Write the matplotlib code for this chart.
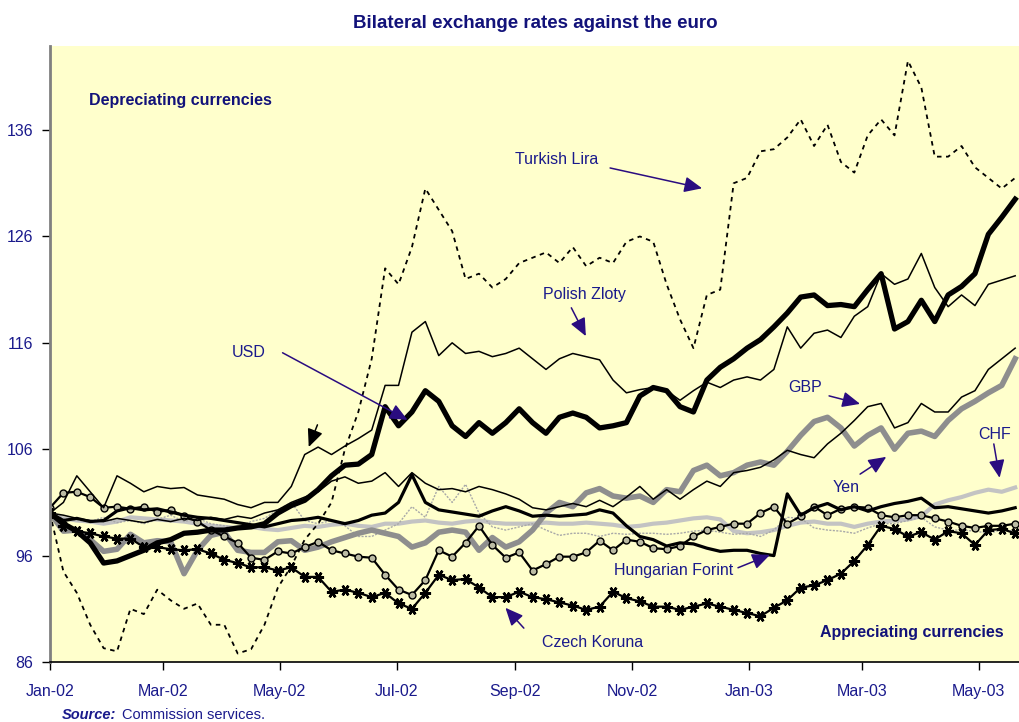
import numpy as np
import pandas as pd
import matplotlib
matplotlib.use('Agg')
import matplotlib.pyplot as plt
import matplotlib.dates as mdates
from matplotlib import font_manager as fm

# weekly observations, index 1 Jan 2002 = 100
dates = pd.date_range('2002-01-01', periods=73, freq='7D')

turkish_lira = [100, 94.5, 92.5, 89.5, 87.3, 87, 91, 90.5, 92.8, 91.8, 91, 91.5, 89.5, 89.5,
                86.8, 87.2, 89.5, 93, 95, 97.5, 99, 101, 106, 109.5, 114.5, 123, 121.5, 125,
                130.5, 128.5, 126.5, 122, 122.5, 121.2, 122, 123.5, 124, 124.5, 123.5, 125,
                123.2, 124, 123.5, 125.5, 126, 125.5, 121.5, 118.2, 115.5, 120.5, 121, 131,
                131.5, 134, 134.2, 135.3, 137, 134.5, 136.5, 133, 132, 135.5, 137, 135.5,
                142.5, 140, 133.5, 133.5, 134.5, 132.5, 131.5, 130.5, 131.5]
usd = [100, 99, 98.3, 97.2, 95.3, 95.5, 96, 96.5, 97.2, 97.5, 98.1, 98.2, 98.4, 98.4, 98.6,
       98.7, 99, 100, 100.7, 101.2, 102.2, 103.5, 104.5, 104.6, 105.5, 110, 108.2, 109.5,
       111.5, 110.5, 108.2, 107.2, 108.5, 107.5, 108.5, 109.8, 108.5, 107.5, 109, 109.4, 109,
       108, 108.2, 108.5, 111, 111.8, 111.5, 110, 109.5, 112.5, 113.7, 114.5, 115.5, 116.3,
       117.5, 118.8, 120.3, 120.5, 119.5, 119.6, 119.4, 121, 122.5, 117.3, 118, 120, 118,
       120.5, 121.3, 122.5, 126.2, 127.8, 129.5]
polish_zloty = [100, 101, 103.5, 102, 100.5, 103.5, 102.8, 102, 102.5, 102.3, 102.4, 101.7,
                101.5, 101.3, 100.8, 100.5, 101, 101, 102.5, 105.5, 106.2, 105.5, 106.3, 107,
                107.8, 112, 112, 117, 118, 114.8, 116, 115, 115.2, 114.7, 115, 115.5, 114.5,
                113.5, 114.5, 115, 114.7, 114.4, 112.5, 111.3, 111.6, 111.8, 111.5, 110.6,
                111.5, 112.3, 111.8, 112.5, 112.8, 112.5, 113.5, 117.5, 115.5, 116.9, 117.2,
                116.5, 118.5, 119.4, 122.5, 121.5, 122, 124.4, 121.2, 119.4, 120.5, 119.5,
                121.5, 121.9, 122.3]
gbp = [100, 99.8, 99.5, 99.3, 99.2, 99.5, 99.3, 99.1, 99.4, 99.2, 99.5, 99.3, 99.6, 99.4,
       99.7, 99.5, 100, 100.3, 101, 101.5, 102, 103, 103.4, 102.8, 103, 103.8, 102.5, 103.8,
       102.8, 102.2, 102.3, 102, 102.5, 102.2, 101.8, 101.3, 100.5, 100.3, 100.6, 100.9,
       100.6, 101.2, 100.6, 101.5, 102.5, 101.3, 102.2, 101.3, 102.2, 103, 102.5, 103.8, 104,
       104.3, 105, 105.9, 105.5, 105.2, 106.5, 107.5, 108.7, 110, 110.3, 108, 108.5, 110.3,
       109.5, 109.5, 110.9, 111.5, 113.5, 114.5, 115.5]
yen = [100, 98.3, 98.4, 97.5, 96.4, 96.6, 98, 97.2, 97.4, 97.3, 94.3, 96.5, 97.9, 98.2, 96.5,
       96.3, 96.3, 97.3, 97.4, 96.5, 96.8, 97.3, 97.7, 98.1, 98.4, 98.1, 97.8, 96.8, 97.2,
       98.2, 98.4, 98.2, 96.5, 97.7, 96.8, 97.3, 98.4, 100, 101, 100.6, 101.9, 102.3, 101.6,
       101.4, 101.6, 101, 102.2, 102, 104, 104.5, 103.5, 103.8, 104.5, 104.8, 104.5, 105.8,
       107.3, 108.6, 109, 108, 106.3, 107.3, 108, 106, 107.5, 107.7, 107.2, 108.7, 109.8,
       110.5, 111.3, 112, 114.5]
chf = [100, 99.5, 99.3, 99.2, 99, 99.2, 99.6, 99.5, 99.4, 99.3, 99.2, 99, 98.8, 98.7, 98.6,
       98.7, 98.5, 98.4, 98.6, 98.8, 98.7, 98.9, 99, 98.8, 98.7, 99, 99, 99.2, 99.3, 99.1, 99,
       99.2, 99.3, 99.1, 99, 99, 99, 99.1, 99, 99, 99.1, 99, 98.9, 98.7, 98.8, 99, 99.1, 99.3,
       99.5, 99.6, 99.4, 98.3, 98.1, 98.2, 98.4, 98.8, 99.1, 99.2, 99, 99, 98.7, 99, 99.2,
       99.3, 99.4, 99.7, 100.8, 101.2, 101.5, 101.9, 102.2, 102, 102.4]
other_dotted = [100, 99.5, 99.3, 99.2, 99.6, 99.1, 99.3, 99, 99.4, 99.8, 99.2, 99.5, 99, 98.8,
                98.6, 99.2, 99.5, 100.3, 101, 99.3, 99, 99.3, 98.8, 97.8, 97.8, 98.4, 99,
                100.6, 99.6, 102.5, 101, 102.7, 100, 98.7, 98.4, 98.7, 99, 98.4, 97.9, 98.1,
                98.1, 97.8, 98.1, 98, 98.1, 98.1, 98, 98.1, 98.3, 98.4, 98.2, 98, 98.1, 97.8,
                98.4, 99.6, 99.5, 98.6, 98.4, 98.3, 98.1, 98.6, 99, 99, 99.3, 99.6, 98.7, 98.4,
                98.4, 98.3, 98.1, 98.4, 98.3]
hungarian_forint = [100, 99.3, 99.5, 99.2, 99.3, 100.2, 100.5, 100.3, 100.4, 100.1, 99.8,
                    99.6, 99.5, 99.3, 99.1, 98.9, 98.7, 99, 99.3, 99.4, 99.6, 99.3, 99, 99.3,
                    99.8, 100, 101, 103.6, 101, 100.3, 100.1, 99.9, 99.7, 100.2, 100.6, 100.2,
                    99.7, 99.8, 99.7, 99.8, 99.9, 100.3, 100, 98.8, 97.8, 97.5, 96.9, 97.2,
                    97.1, 96.7, 96.4, 96.5, 96.5, 96.2, 96, 101.8, 99.8, 100.5, 100.9, 100.3,
                    100.6, 100.2, 100.6, 100.9, 101.1, 101.4, 100.5, 100.6, 100.4, 100.2, 100,
                    100.2, 100.5]
circles_series = [100.5, 101.9, 102, 101.5, 100.5, 100.6, 100.4, 100.6, 100.1, 100.3, 99.7,
                  99.2, 98.4, 97.8, 97.2, 95.8, 95.6, 96.4, 96.2, 96.8, 97.3, 96.5, 96.2, 95.9,
                  95.8, 94.2, 92.8, 92.3, 93.7, 96.5, 95.9, 97.2, 98.8, 97, 95.8, 96.3, 94.6,
                  95.2, 95.9, 95.9, 96.3, 97.4, 96.5, 97.5, 97.3, 96.7, 96.6, 96.9, 97.8, 98.4,
                  98.7, 99, 99, 100, 100.6, 99, 99.7, 100.6, 99.8, 100.4, 100.6, 100.5, 99.8,
                  99.6, 99.8, 99.8, 99.5, 99.2, 98.8, 98.6, 98.8, 98.8, 99]
czech_koruna = [100, 98.8, 98.3, 98.1, 97.8, 97.6, 97.6, 96.8, 96.8, 96.6, 96.5, 96.6, 96.2,
                95.6, 95.3, 94.9, 94.9, 94.6, 94.9, 94, 94, 92.6, 92.8, 92.5, 92.1, 92.5, 91.5,
                91, 92.5, 94.2, 93.7, 93.8, 93, 92.1, 92.1, 92.6, 92.1, 91.9, 91.6, 91.3, 90.9,
                91.2, 92.6, 92, 91.7, 91.2, 91.2, 90.9, 91.2, 91.5, 91.2, 90.9, 90.6, 90.3,
                91.1, 91.8, 93, 93.2, 93.7, 94.3, 95.5, 97, 98.8, 98.5, 97.8, 98.2, 97.5, 98.3,
                98.1, 97, 98.4, 98.5, 98.1]

yticks = [86, 96, 106, 116, 126, 136]

navy = '#1a1a8c'
arrow_col = '#2a0c80'

try:
    fm.findfont(fm.FontProperties(family='Liberation Sans Narrow'), fallback_to_default=False)
    font = 'Liberation Sans Narrow'
    fs = 13.5
except ValueError:
    font = 'Liberation Sans'
    fs = 11.5
plt.rcParams['font.family'] = [font, 'DejaVu Sans']

fig = plt.figure(figsize=(10.19, 7.22), dpi=100)
ax = fig.add_axes([50 / 1019, 60 / 722, 969 / 1019, 616 / 722])
ax.set_facecolor('#ffffcc')

ax.plot(dates, chf, color='#c3c3c3', lw=3)
ax.plot(dates, other_dotted, color='#a8a8a8', lw=1, ls=(0, (1.5, 1)))
ax.plot(dates, yen, color='#8e8e8e', lw=4)
ax.plot(dates, circles_series, color='black', lw=1.6, marker='o', ms=5,
        mfc='#bcbca4', mec='black', mew=1)
ax.plot(dates, czech_koruna, color='black', lw=1.6, marker=(6, 2, 90), ms=8, mew=1.8)
ax.plot(dates, hungarian_forint, color='black', lw=2.3)
ax.plot(dates, gbp, color='black', lw=1.1)
ax.plot(dates, polish_zloty, color='black', lw=1.1)
ax.plot(dates, usd, color='black', lw=3.8)
ax.plot(dates, turkish_lira, color='black', lw=1.3, ls=(0, (2.5, 2.5)))

ax.set_ylim(86, 143.9)
ax.set_xlim(pd.Timestamp('2002-01-01'), pd.Timestamp('2003-05-22'))
ax.set_yticks(yticks)
ax.xaxis.set_major_locator(mdates.MonthLocator(bymonth=[1, 3, 5, 7, 9, 11]))
ax.xaxis.set_major_formatter(mdates.DateFormatter('%b-%y'))
ax.tick_params(axis='both', colors='black', labelcolor=navy, labelsize=fs, length=6, width=1)
ax.tick_params(axis='x', pad=10)
ax.tick_params(axis='y', pad=6)

for s in ['top', 'right']:
    ax.spines[s].set_visible(False)
ax.spines['left'].set_color('#808080')
ax.spines['left'].set_linewidth(2)
ax.spines['bottom'].set_color('black')
ax.spines['bottom'].set_linewidth(1.2)

fig.text(535 / 1019, 1 - 24 / 722, 'Bilateral exchange rates against the euro',
         ha='center', va='center', fontsize=fs + 2, fontweight='bold', color='#12127a')
ax.text(0.040, 0.911, 'Depreciating currencies', transform=ax.transAxes, ha='left',
        va='center', fontsize=fs, fontweight='bold', color='#12127a')
ax.text(0.9845, 0.0487, 'Appreciating currencies', transform=ax.transAxes, ha='right',
        va='center', fontsize=fs, fontweight='bold', color='#12127a')

# labels with arrows (axes fractions)
labels = [
    ('Turkish Lira', (0.480, 0.815), (0.578, 0.802), (0.673, 0.769)),
    ('Polish Zloty', (0.509, 0.596), (0.538, 0.575), (0.553, 0.529)),
    ('USD', (0.188, 0.503), (0.240, 0.502), (0.369, 0.393)),
    ('GBP', (0.762, 0.446), (0.804, 0.432), (0.836, 0.419)),
    ('Yen', (0.808, 0.284), (0.836, 0.305), (0.863, 0.333)),
    ('CHF', (0.958, 0.369), (0.974, 0.354), (0.980, 0.299)),
    ('Hungarian Forint', (0.582, 0.149), (0.710, 0.153), (0.743, 0.174)),
    ('Czech Koruna', (0.508, 0.031), (0.489, 0.055), (0.470, 0.088)),
]
for name, tpos, tail, tip in labels:
    ax.text(tpos[0], tpos[1], name, transform=ax.transAxes, ha='left', va='center',
            fontsize=fs, color=navy)
    ax.annotate('', xy=tip, xytext=tail, xycoords='axes fraction',
                textcoords='axes fraction',
                arrowprops=dict(arrowstyle='-|>,head_length=0.9,head_width=0.4',
                                color=arrow_col, lw=1.1, shrinkA=0, shrinkB=0,
                                mutation_scale=12))
ax.annotate('', xy=(0.267, 0.349), xytext=(0.276, 0.385), xycoords='axes fraction',
            textcoords='axes fraction',
            arrowprops=dict(arrowstyle='-|>,head_length=0.9,head_width=0.4', color='black',
                            lw=1.1, shrinkA=0, shrinkB=0, mutation_scale=12))

fig.text(62 / 1019, 1 - 715 / 722, 'Source:', ha='left', va='center', fontsize=fs - 1,
         fontweight='bold', fontstyle='italic', color=navy)
fig.text(122 / 1019, 1 - 715 / 722, 'Commission services.', ha='left', va='center',
         fontsize=fs - 1, color=navy)

fig.savefig('out.png', dpi=100, facecolor='white')
